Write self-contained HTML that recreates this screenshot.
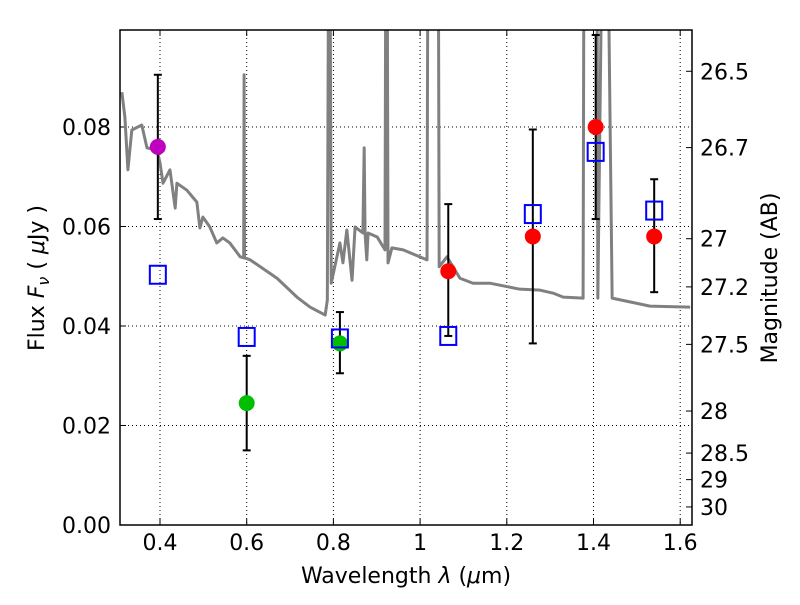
<!DOCTYPE html>
<html><head><meta charset="utf-8"><style>
body{margin:0;background:#fff}
text{font-family:"DejaVu Sans","Liberation Sans",sans-serif;fill:#000}
</style></head><body>
<svg id="c" width="800" height="600" viewBox="0 0 800 600" xmlns="http://www.w3.org/2000/svg"></svg>
<script>
const xTicks=[0.4,0.6,0.8,1.0,1.2,1.4,1.6];
const xTickLabels=["0.4","0.6","0.8","1","1.2","1.4","1.6"];
const yTicks=[0,0.02,0.04,0.06,0.08];
const yTickLabels=["0.00","0.02","0.04","0.06","0.08"];
const magTicks=[26.5,26.7,27,27.2,27.5,28,28.5,29,30];
const magLabels=["26.5","26.7","27","27.2","27.5","28","28.5","29","30"];
const specWl=[0.312,0.319,0.326,0.335,0.358,0.370,0.393,0.400,0.407,0.423,0.435,0.439,0.462,0.485,0.492,0.499,0.515,0.531,0.545,0.561,0.585,0.593,0.594,0.595,0.608,0.670,0.716,0.746,0.781,0.786,0.789,0.792,0.795,0.815,0.822,0.831,0.843,0.850,0.868,0.871,0.873,0.877,0.880,0.901,0.919,0.921,0.924,0.926,0.935,0.961,1.016,1.018,1.042,1.044,1.062,1.092,1.122,1.161,1.230,1.277,1.307,1.330,1.376,1.378,1.408,1.410,1.420,1.433,1.443,1.530,1.623];
const specFlux=[0.0870,0.0820,0.0714,0.0794,0.0804,0.0758,0.0754,0.0728,0.0687,0.0714,0.0637,0.0687,0.0673,0.0649,0.0597,0.0619,0.0599,0.0567,0.0577,0.0567,0.0539,0.0537,0.0905,0.0537,0.0533,0.0496,0.0458,0.0438,0.0422,0.0452,0.12,0.12,0.0486,0.0567,0.0527,0.0593,0.0492,0.0599,0.0587,0.0758,0.0587,0.0533,0.0587,0.0579,0.0553,0.12,0.12,0.0527,0.0557,0.0553,0.0533,0.12,0.12,0.0519,0.0539,0.0496,0.0486,0.0486,0.0474,0.0472,0.0466,0.0458,0.0456,0.12,0.12,0.0456,0.12,0.12,0.0456,0.0440,0.0438];
const ptWl=[0.395,0.600,0.815,1.065,1.260,1.405,1.540];
const ptFlux=[0.076,0.0245,0.0365,0.051,0.058,0.080,0.058];
const ptLo=[0.0615,0.015,0.0305,0.038,0.0365,0.0615,0.0468];
const ptHi=[0.0905,0.034,0.0428,0.0645,0.0795,0.0985,0.0695];
const ptColor=["#bf00bf","#00bf00","#00bf00","#ff0000","#ff0000","#ff0000","#ff0000"];
const modelFlux=[0.0503,0.0378,0.0375,0.0380,0.0625,0.075,0.0632];

const L=120,R=692,T=30,B=525;
const X=w=>160+(w-0.4)*433.5;
const Y=f=>525-f*4975;
const ns="http://www.w3.org/2000/svg";
const svg=document.getElementById('c');
function mk(tag,attrs,parent){const e=document.createElementNS(ns,tag);for(const k in attrs)e.setAttribute(k,attrs[k]);(parent||svg).appendChild(e);return e;}
const defs=mk('defs',{});const cp=mk('clipPath',{id:'clip'},defs);mk('rect',{x:L,y:T,width:R-L,height:B-T},cp);
xTicks.forEach((t,i)=>{const g=mk('line',{x1:X(t),x2:X(t),y1:T,y2:B,stroke:'#000','stroke-width':1,'stroke-dasharray':'1,3'});

mk('line',{x1:X(t),x2:X(t),y1:B,y2:B-6,stroke:'#000'});mk('line',{x1:X(t),x2:X(t),y1:T,y2:T+6,stroke:'#000'});
const tx=mk('text',{x:X(t),y:B+25,'font-size':22,'text-anchor':'middle'});tx.textContent=xTickLabels[i];
});
yTicks.forEach((t,i)=>{const g=mk('line',{x1:L,x2:R,y1:Y(t),y2:Y(t),stroke:'#000','stroke-width':1,'stroke-dasharray':'1,3'});

mk('line',{x1:L,x2:L+6,y1:Y(t),y2:Y(t),stroke:'#000'});
const tx=mk('text',{x:L-9,y:Y(t)+8,'font-size':22,'text-anchor':'end'});tx.textContent=yTickLabels[i];
});
magTicks.forEach((m,i)=>{const f=Math.pow(10,(23.9-m)/2.5);const y=Y(f);
mk('line',{x1:R,x2:R-6,y1:y,y2:y,stroke:'#000'});
const tx=mk('text',{x:R+8,y:y+8,'font-size':22});tx.textContent=magLabels[i];
});
const sp=mk('polyline',{points:specWl.map((w,i)=>X(w)+','+Y(specFlux[i])).join(' '),fill:'none',stroke:'#808080','stroke-width':3,'clip-path':'url(#clip)','stroke-linejoin':'round'});

ptWl.forEach((w,i)=>{const x=X(w);
const e=mk('line',{x1:x,x2:x,y1:Y(ptLo[i]),y2:Y(ptHi[i]),stroke:'#000','stroke-width':2,'clip-path':'url(#clip)'});

[ptLo[i],ptHi[i]].forEach(v=>mk('line',{x1:x-4,x2:x+4,y1:Y(v),y2:Y(v),stroke:'#000','stroke-width':2}));
const c=mk('circle',{cx:x,cy:Y(ptFlux[i]),r:8,fill:ptColor[i]});

const s=mk('rect',{x:x-8,y:Y(modelFlux[i])-9,width:16,height:18,fill:'none',stroke:'#0000ff','stroke-width':2});
});
const fr=mk('rect',{x:L,y:T,width:R-L,height:B-T,fill:'none',stroke:'#000','stroke-width':1.5});

</script>
<svg width="800" height="600" style="position:absolute;left:0;top:0">
<text x="406" y="583" font-size="22" text-anchor="middle">Wavelength  <tspan font-style="italic">λ</tspan> (<tspan font-style="italic">μ</tspan>m)</text>
<text transform="translate(44,278) rotate(-90)" font-size="22" text-anchor="middle">Flux  <tspan font-style="italic">F<tspan font-size="16" dy="5">ν</tspan></tspan><tspan dy="-5">  (  </tspan><tspan font-style="italic">μ</tspan>Jy )</text>
<text transform="translate(777,278) rotate(-90)" font-size="22" text-anchor="middle">Magnitude (AB)</text>
</svg>
</body></html>
